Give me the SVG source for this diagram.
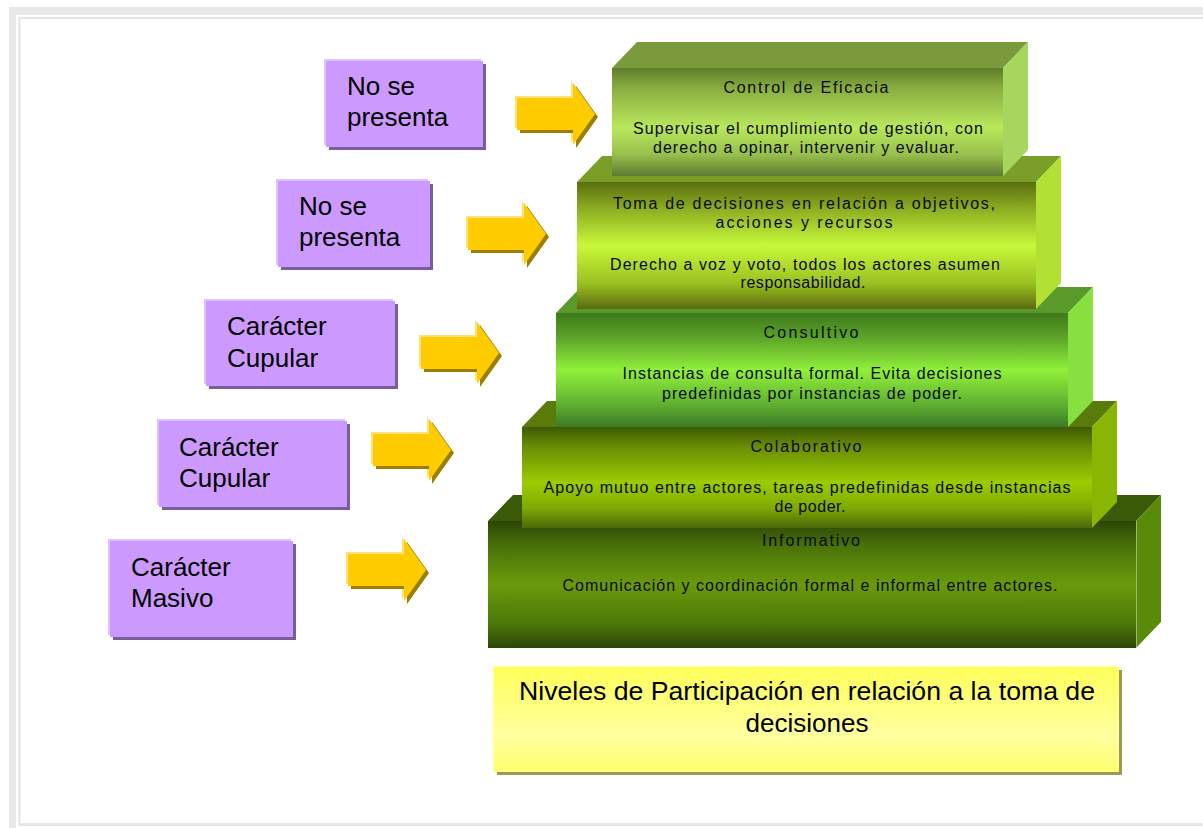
<svg xmlns="http://www.w3.org/2000/svg" xmlns:xlink="http://www.w3.org/1999/xlink" width="1203" height="828" viewBox="0 0 1203 828">
<style>
.lbl{font-family:"Liberation Sans",Arial,sans-serif;font-size:26px;fill:#000}
.bt{font-family:"Liberation Sans",Arial,sans-serif;font-size:16px;fill:#0a0a0a;text-anchor:middle}
.cap{font-family:"Liberation Sans",Arial,sans-serif;font-size:26px;fill:#000;text-anchor:middle}
.pl{fill:#dcc2ff}.ps{fill:#7b5d9b}.pm{fill:#cc99ff}
</style>
<defs>
<linearGradient id="g1" x1="0" y1="0" x2="0" y2="1">
<stop offset="0" stop-color="#5d7d2a"/><stop offset="0.18" stop-color="#88ac40"/><stop offset="0.55" stop-color="#b8e85c"/><stop offset="0.8" stop-color="#98c04c"/><stop offset="1" stop-color="#5e7a32"/>
</linearGradient>
<linearGradient id="g2" x1="0" y1="0" x2="0" y2="1">
<stop offset="0" stop-color="#5a6e10"/><stop offset="0.2" stop-color="#8aaa20"/><stop offset="0.5" stop-color="#c8f83a"/><stop offset="0.8" stop-color="#9ac020"/><stop offset="1" stop-color="#5c6a10"/>
</linearGradient>
<linearGradient id="g3" x1="0" y1="0" x2="0" y2="1">
<stop offset="0" stop-color="#3e7a1a"/><stop offset="0.2" stop-color="#5aa028"/><stop offset="0.5" stop-color="#90f03a"/><stop offset="0.8" stop-color="#60b030"/><stop offset="1" stop-color="#3c7a28"/>
</linearGradient>
<linearGradient id="g4" x1="0" y1="0" x2="0" y2="1">
<stop offset="0" stop-color="#3e5a05"/><stop offset="0.2" stop-color="#6a8e05"/><stop offset="0.55" stop-color="#9acc00"/><stop offset="0.8" stop-color="#80aa05"/><stop offset="1" stop-color="#4a6808"/>
</linearGradient>
<linearGradient id="g5" x1="0" y1="0" x2="0" y2="1">
<stop offset="0" stop-color="#2c4606"/><stop offset="0.2" stop-color="#4a720a"/><stop offset="0.5" stop-color="#6a9a0a"/><stop offset="0.8" stop-color="#4e7a0a"/><stop offset="1" stop-color="#2c4606"/>
</linearGradient>
<linearGradient id="gy" x1="0" y1="0" x2="0" y2="1">
<stop offset="0" stop-color="#ffff5a"/><stop offset="0.65" stop-color="#ffffa0"/><stop offset="1" stop-color="#ffff70"/>
</linearGradient>
<g id="arr">
<path d="M0,0H56V-15L78,16L56,47V32H0Z" fill="#ffe27a" transform="translate(-2,-2)"/>
<path d="M0,0H56V-15L78,16L56,47V32H0Z" fill="#9c7e00" transform="translate(3,3)"/>
<path d="M0,0H56V-15L78,16L56,47V32H0Z" fill="#ffcc00"/>
</g>
</defs>
<rect width="1203" height="828" fill="#fff"/>
<g id="frame">
<rect x="9" y="7" width="1194" height="8" fill="#e8e8e8"/>
<rect x="9" y="7" width="7" height="821" fill="#e8e8e8"/>
<rect x="18.5" y="17" width="1185" height="2" fill="#e4e4e4"/>
<rect x="18.5" y="17" width="2" height="809" fill="#e4e4e4"/>
<rect x="18.5" y="823" width="1185" height="3" fill="#e6e6e6"/>
</g>

<g id="level-informativo">
<polygon points="488,521 513,495 1161,495 1136,521" fill="#3a5a08"/>
<polygon points="1136,521 1161,495 1161,622 1136,648" fill="#5a8a0a"/>
<rect x="488" y="521" width="648" height="127" fill="url(#g5)"/>
<line x1="1136.5" y1="521" x2="1136.5" y2="648" stroke="#c8e0a0" stroke-width="1" opacity="0.6"/>
<text class="bt" x="811" y="546" textLength="98" lengthAdjust="spacing">Informativo</text>
<text class="bt" x="810" y="591" textLength="495" lengthAdjust="spacing">Comunicación y coordinación formal e informal entre actores.</text>
</g>

<g id="level-colaborativo">
<polygon points="522,427 547,401 1117,401 1092,427" fill="#5a7a0a"/>
<polygon points="1092,427 1117,401 1117,502 1092,528" fill="#88b602"/>
<rect x="522" y="427" width="570" height="101" fill="url(#g4)"/>
<text class="bt" x="806" y="452" textLength="111" lengthAdjust="spacing">Colaborativo</text>
<text class="bt" x="807" y="493" textLength="527" lengthAdjust="spacing">Apoyo mutuo entre actores, tareas predefinidas desde instancias</text>
<text class="bt" x="810" y="512" textLength="71" lengthAdjust="spacing">de poder.</text>
</g>

<g id="level-consultivo">
<polygon points="556,313 581,287 1093,287 1068,313" fill="#5a9a2a"/>
<polygon points="1068,313 1093,287 1093,401 1068,427" fill="#88e040"/>
<rect x="556" y="313" width="512" height="114" fill="url(#g3)"/>
<text class="bt" x="811" y="338" textLength="95" lengthAdjust="spacing">Consultivo</text>
<text class="bt" x="812" y="379" textLength="379" lengthAdjust="spacing">Instancias de consulta formal. Evita decisiones</text>
<text class="bt" x="812" y="399" textLength="300" lengthAdjust="spacing">predefinidas por instancias de poder.</text>
</g>

<g id="level-decisiones">
<polygon points="577,182 602,156 1061,156 1036,182" fill="#7a9e28"/>
<polygon points="1036,182 1061,156 1061,283 1036,309" fill="#b2e034"/>
<rect x="577" y="182" width="459" height="127" fill="url(#g2)"/>
<text class="bt" x="804" y="209" textLength="382" lengthAdjust="spacing">Toma de decisiones en relación a objetivos,</text>
<text class="bt" x="804" y="228" textLength="177" lengthAdjust="spacing">acciones y recursos</text>
<text class="bt" x="805" y="270" textLength="390" lengthAdjust="spacing">Derecho a voz y voto, todos los actores asumen</text>
<text class="bt" x="803" y="288" textLength="125" lengthAdjust="spacing">responsabilidad.</text>
</g>

<g id="level-control">
<polygon points="612,68 637,42 1028,42 1003,68" fill="#7a9a3c"/>
<polygon points="1003,68 1028,42 1028,150 1003,176" fill="#a6d65e"/>
<rect x="612" y="68" width="391" height="108" fill="url(#g1)"/>
<text class="bt" x="806" y="93" textLength="165" lengthAdjust="spacing">Control de Eficacia</text>
<text class="bt" x="808" y="134" textLength="350" lengthAdjust="spacing">Supervisar el cumplimiento de gestión, con</text>
<text class="bt" x="806" y="153" textLength="306" lengthAdjust="spacing">derecho a opinar, intervenir y evaluar.</text>
</g>

<g id="label-1">
<rect class="pl" x="324" y="59" width="157" height="86"/>
<rect class="ps" x="329" y="64" width="157" height="86"/>
<rect class="pm" x="326" y="61" width="157" height="86"/>
<text class="lbl" x="347" y="95">No se</text>
<text class="lbl" x="347" y="126">presenta</text>
</g>
<g id="label-2">
<rect class="pl" x="276" y="179" width="152" height="86"/>
<rect class="ps" x="281" y="184" width="152" height="86"/>
<rect class="pm" x="278" y="181" width="152" height="86"/>
<text class="lbl" x="299" y="215">No se</text>
<text class="lbl" x="299" y="246">presenta</text>
</g>
<g id="label-3">
<rect class="pl" x="204" y="299" width="189" height="85"/>
<rect class="ps" x="209" y="304" width="189" height="85"/>
<rect class="pm" x="206" y="301" width="189" height="85"/>
<text class="lbl" x="227" y="335">Carácter</text>
<text class="lbl" x="227" y="367">Cupular</text>
</g>
<g id="label-4">
<rect class="pl" x="157" y="419" width="188" height="86"/>
<rect class="ps" x="162" y="424" width="188" height="86"/>
<rect class="pm" x="159" y="421" width="188" height="86"/>
<text class="lbl" x="179" y="456">Carácter</text>
<text class="lbl" x="179" y="487">Cupular</text>
</g>
<g id="label-5">
<rect class="pl" x="108" y="539" width="183" height="96"/>
<rect class="ps" x="113" y="544" width="183" height="96"/>
<rect class="pm" x="110" y="541" width="183" height="96"/>
<text class="lbl" x="131" y="576">Carácter</text>
<text class="lbl" x="131" y="607">Masivo</text>
</g>

<g id="connectors">
<use xlink:href="#arr" x="517" y="98"/>
<use xlink:href="#arr" x="468" y="218"/>
<use xlink:href="#arr" x="421" y="337"/>
<use xlink:href="#arr" x="373" y="434"/>
<use xlink:href="#arr" x="348" y="554"/>
</g>

<g id="caption">
<rect x="492" y="665" width="625" height="105" fill="#ffffc8"/>
<rect x="497" y="670" width="625" height="105" fill="#9a9a55"/>
<rect x="494" y="667" width="625" height="105" fill="url(#gy)"/>
<text class="cap" x="807" y="700" textLength="576" lengthAdjust="spacingAndGlyphs">Niveles de Participación en relación a la toma de</text>
<text class="cap" x="807" y="732">decisiones</text>
</g>
</svg>
